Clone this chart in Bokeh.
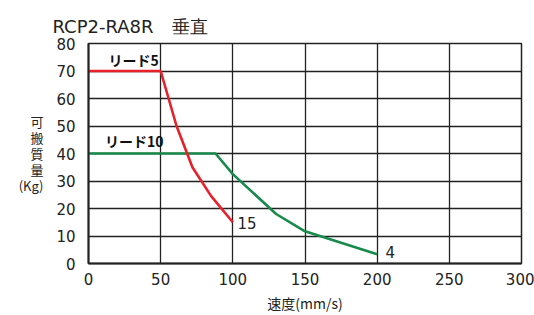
from bokeh.plotting import figure
from bokeh.models import Range1d, FixedTicker, Label
from bokeh.embed import file_html
from bokeh.resources import INLINE

# data
lead5_speed = [0, 50, 61, 72, 85, 100]
lead5_payload = [70, 70, 50, 35, 24.5, 15]
lead10_speed = [0, 88, 100, 130, 150, 200]
lead10_payload = [40, 40, 32.5, 18, 11.7, 3.4]
x_ticks = [0, 50, 100, 150, 200, 250, 300]
y_ticks = [0, 10, 20, 30, 40, 50, 60, 70, 80]
title_text = "RCP2-RA8R\u3000垂直"
x_title = "速度(mm/s)"
y_title = "可\n搬\n質\n量\n(Kg)"
lead5_name = "リード5"
lead10_name = "リード10"
lead5_end = "15"
lead10_end = "4"

RED = "#e8202a"
GREEN = "#188a4c"
GRID = "#222222"
NUM_FONT = "DejaVu Sans"
JP_FONT = "Noto Sans CJK JP"

p = figure(width=534, height=315, output_backend="svg", toolbar_location=None,
           x_range=Range1d(0, 300), y_range=Range1d(0, 80),
           min_border_left=88, min_border_right=13, min_border_top=43, min_border_bottom=47)
p.background_fill_color = "white"
p.border_fill_color = "white"
p.outline_line_color = GRID
p.outline_line_width = 1.5

p.title.text = title_text
p.title.text_font = NUM_FONT
p.title.text_font_size = "18px"
p.title.text_font_style = "normal"
p.title.text_color = "#222222"
p.title.align = "left"
p.title.offset = -36
p.title.standoff = 13

p.xaxis.ticker = FixedTicker(ticks=x_ticks)
p.yaxis.ticker = FixedTicker(ticks=y_ticks)
for ax in (p.xaxis, p.yaxis):
    ax.major_tick_line_color = None
    ax.minor_tick_line_color = None
    ax.axis_line_color = GRID
    ax.axis_line_width = 2
    ax.major_label_text_font = NUM_FONT
    ax.major_label_text_font_size = "15px"
    ax.major_label_text_color = "#222222"
    ax.axis_label_text_font = JP_FONT
    ax.axis_label_text_font_style = "normal"
    ax.axis_label_text_color = "#222222"
p.yaxis.major_label_standoff = 7
p.xaxis.major_label_standoff = 3

p.xaxis.axis_label = x_title
p.xaxis.axis_label_text_font_size = "14px"
p.xaxis.axis_label_standoff = 5
p.yaxis.axis_label = y_title
p.yaxis.axis_label_orientation = "horizontal"
p.yaxis.axis_label_text_font_size = "13px"
p.yaxis.axis_label_text_line_height = 0.85
p.yaxis.axis_label_standoff = 10

p.xgrid.ticker = FixedTicker(ticks=x_ticks)
p.ygrid.ticker = FixedTicker(ticks=y_ticks)
for g in (p.xgrid, p.ygrid):
    g.grid_line_color = GRID
    g.grid_line_width = 1.3
    g.grid_line_alpha = 1.0

p.line(lead10_speed, lead10_payload, line_color=GREEN, line_width=2.6)
p.line(lead5_speed, lead5_payload, line_color=RED, line_width=2.6)

def lab(x, y, t, font=JP_FONT, size="14px", style="normal", align="left", color="#222222"):
    p.add_layout(Label(x=x, y=y, text=t, text_font=font, text_font_size=size,
                       text_font_style=style, text_align=align, text_baseline="middle",
                       text_color=color))

lab(13.9, 74.0, lead5_name, size="14px", style="bold", color="#111111")
lab(11.5, 44.4, lead10_name, size="14px", style="bold", color="#111111")
lab(103.2, 14.9, lead5_end, font=NUM_FONT, size="15px")
lab(205.8, 4.3, lead10_end, font=NUM_FONT, size="15px")

open("out.html", "w").write(file_html(p, INLINE))
